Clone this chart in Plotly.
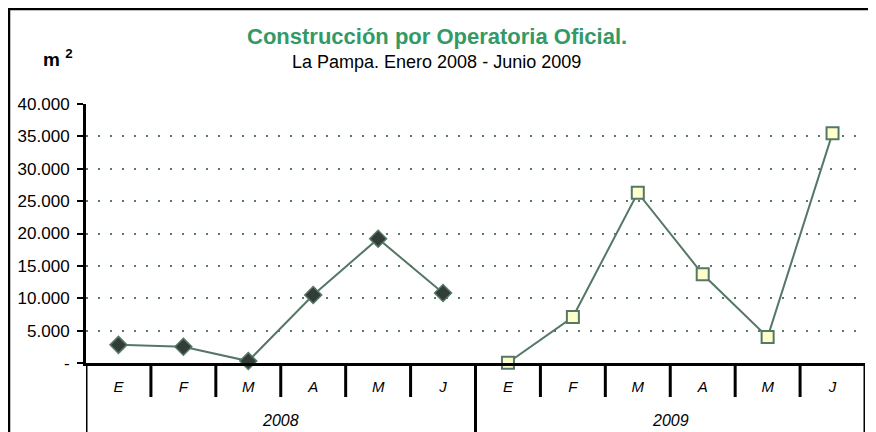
import plotly.graph_objects as go

months = ["E", "F", "M", "A", "M", "J"]
years = ["2008", "2009"]
vals_2008 = [2800, 2500, 300, 10500, 19200, 10800]
vals_2009 = [50, 7100, 26300, 13700, 4000, 35500]
y_ticks = [0, 5000, 10000, 15000, 20000, 25000, 30000, 35000, 40000]
y_tick_text = ["-", "5.000", "10.000", "15.000", "20.000", "25.000", "30.000", "35.000", "40.000"]

LINE = "#557766"
FONT = "Liberation Sans, Arial, sans-serif"

nm = len(months)
n = nm * len(years)
x_2008 = list(range(0, nm))
x_2009 = list(range(nm, 2 * nm))

fig = go.Figure()
fig.add_trace(go.Scatter(
    x=x_2008, y=vals_2008, mode="lines+markers",
    line=dict(color=LINE, width=2),
    marker=dict(symbol="diamond", size=13, color="#333d38", line=dict(color=LINE, width=1.5)),
    showlegend=False, cliponaxis=False))
fig.add_trace(go.Scatter(
    x=x_2009, y=vals_2009, mode="lines+markers",
    line=dict(color=LINE, width=2),
    marker=dict(symbol="square", size=12, color="#ffffcc", line=dict(color=LINE, width=2)),
    showlegend=False, cliponaxis=False))

# page body has an 8px margin: work in screen coords and shift
OFF = 8
W, H = 876 - OFF, 432 - OFF
L, R, T, B = 86 - OFF, 876 - 865, 104 - OFF, round(432 - 362.7)
pw, ph = W - L - R, H - T - B

def px(x):
    return (x - OFF - L) / pw

def py(y):
    return (H - B - (y - OFF)) / ph

# month / year separators at category boundaries
for k in range(n + 1):
    fig.add_shape(type="line", xref="x", yref="paper", x0=k - 0.5, x1=k - 0.5,
                  y0=0, y1=py(397) if k % nm else py(460), line=dict(color="black", width=3))

# year labels
annotations = []
for i, yr in enumerate(years):
    annotations.append(dict(text=f"<i>{yr}</i>", xref="x", yref="paper", x=i * nm + (nm - 1) / 2, y=py(420),
                            xanchor="center", yanchor="middle", showarrow=False, font=dict(size=16)))

# outer frame
fig.add_shape(type="rect", xref="paper", yref="paper", x0=px(9), x1=px(900), y0=py(470), y1=py(9),
              line=dict(color="black", width=2.5), layer="above")

annotations += [
    dict(text="<b>Construcción por Operatoria Oficial.</b>", xref="paper", yref="paper", x=px(437), y=py(36),
         xanchor="center", yanchor="middle", showarrow=False, font=dict(size=22, color="#339966")),
    dict(text="La Pampa. Enero 2008 - Junio 2009", xref="paper", yref="paper", x=px(436), y=py(62),
         xanchor="center", yanchor="middle", showarrow=False, font=dict(size=18)),
    dict(text="<b>m <sup>2</sup></b>", xref="paper", yref="paper", x=px(58), y=py(58),
         xanchor="center", yanchor="middle", showarrow=False, font=dict(size=19)),
]

fig.update_layout(
    width=W, height=H, margin=dict(l=L, r=R, t=T, b=B, autoexpand=False),
    paper_bgcolor="white", plot_bgcolor="white",
    font=dict(family=FONT, color="black", size=14),
    xaxis=dict(range=[-0.5, n - 0.5], tickvals=x_2008 + x_2009, ticktext=months * len(years),
               showline=True, linecolor="black", linewidth=3,
               ticks="outside", ticklen=8, tickcolor="rgba(0,0,0,0)", showgrid=False, zeroline=False,
               tickfont=dict(size=15, style="italic")),
    yaxis=dict(range=[0, 40000], tickvals=y_ticks, ticktext=y_tick_text, showline=True, linecolor="black",
               linewidth=3, ticks="outside", ticklen=6, tickwidth=2, tickcolor="black", ticklabelstandoff=4,
               showgrid=True, gridcolor="#5a7a6e", gridwidth=1.5, griddash="2px,10px", zeroline=False,
               tickfont=dict(size=17)),
    annotations=annotations,
)
fig.write_html("out.html")
